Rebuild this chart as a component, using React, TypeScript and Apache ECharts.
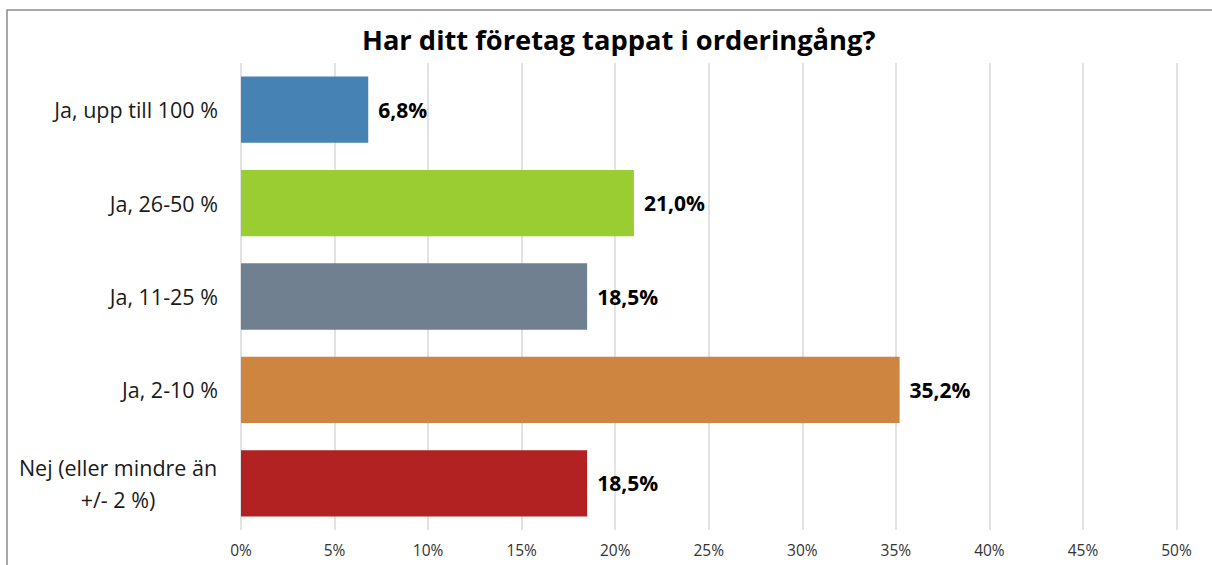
import React, { useEffect, useRef } from "react";
import * as echarts from "echarts";

const title = "Har ditt företag tappat i orderingång?";
const categories = [
  "Ja, upp till 100 %",
  "Ja, 26-50 %",
  "Ja, 11-25 %",
  "Ja, 2-10 %",
  "Nej (eller mindre än\n+/- 2 %)",
];
const values = [6.8, 21.0, 18.5, 35.2, 18.5];
const colors = ["#4682B4", "#9ACD32", "#708090", "#CD853F", "#B22222"];
const xTicks = [0, 5, 10, 15, 20, 25, 30, 35, 40, 45, 50];

const FONT = "'Open Sans', Lato, sans-serif";

export default function App() {
  const ref = useRef<HTMLDivElement>(null);
  useEffect(() => {
    if (!ref.current) return;
    const chart = echarts.init(ref.current, undefined, { renderer: "svg" });
    const cats = [...categories].reverse();
    const vals = [...values].reverse();
    const cols = [...colors].reverse();
    chart.setOption({
      animation: false,
      backgroundColor: "#ffffff",
      title: {
        text: title,
        left: 357,
        top: 21,
        textStyle: { fontFamily: FONT, fontSize: 27.3, fontWeight: "bold", color: "#000" },
      },
      graphic: [
        {
          type: "rect",
          shape: { x: 7, y: 10, width: 1215, height: 570 },
          style: { fill: "none", stroke: "#8c8c8c", lineWidth: 1.5 },
          silent: true,
        },
      ],
      grid: { left: 241, right: 35.5, top: 63, bottom: 35 },
      xAxis: {
        type: "value",
        min: xTicks[0],
        max: xTicks[xTicks.length - 1],
        interval: 5,
        axisLine: { show: false },
        axisTick: { show: false },
        splitLine: { show: true, lineStyle: { color: "#d9d9d9", width: 1.5 } },
        axisLabel: {
          formatter: (v: number) => `${v}%`,
          fontFamily: FONT,
          fontSize: 15.5,
          color: "#333333",
          margin: 12,
        },
      },
      yAxis: {
        type: "category",
        data: cats,
        axisLine: { show: false },
        axisTick: { show: false },
        axisLabel: {
          fontFamily: FONT,
          fontSize: 21.5,
          color: "#1a1a1a",
          margin: 23,
          lineHeight: 32,
          formatter: (v: string) =>
            v.includes("\n")
              ? v.split("\n").map((l) => `{c|${l}}`).join("\n")
              : v,
          rich: {
            c: {
              width: 200,
              align: "center",
              fontFamily: FONT,
              fontSize: 21.5,
              color: "#1a1a1a",
              lineHeight: 32,
            },
          },
        },
      },
      series: [
        {
          type: "bar",
          data: vals.map((v, i) => ({ value: v, itemStyle: { color: cols[i] } })),
          barCategoryGap: "29%",
          label: {
            show: true,
            position: "right",
            distance: 10,
            fontFamily: FONT,
            fontSize: 21,
            fontWeight: "bold",
            color: "#000",
            formatter: (p: any) => `${p.value.toFixed(1).replace(".", ",")}%`,
          },
        },
      ],
    });
    return () => chart.dispose();
  }, []);
  return (
    <div
      ref={ref}
      style={{ position: "fixed", left: 0, top: 0, width: 1212, height: 565 }}
    />
  );
}
